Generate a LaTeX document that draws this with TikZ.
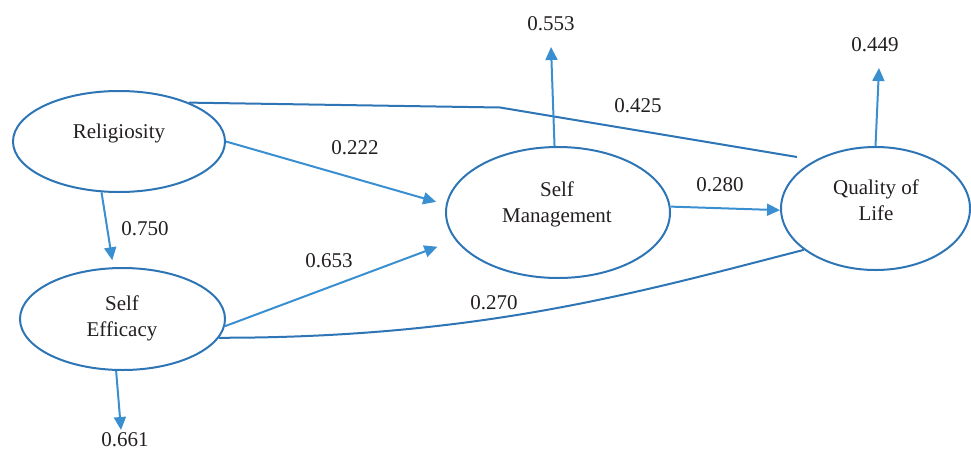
\documentclass[tikz,border=0pt]{standalone}
\usepackage{fontspec}
\setmainfont{Liberation Serif}
\usetikzlibrary{shapes.geometric,arrows.meta,calc}
\definecolor{ellblue}{HTML}{2E75B6}
\definecolor{arrblue}{HTML}{3A8FD0}
\definecolor{txtgray}{HTML}{231F20}
\begin{document}
\begin{tikzpicture}[x=1pt,y=-1pt,
  latent/.style={ellipse,draw=ellblue,line width=2pt,inner sep=0pt},
  lbl/.style={text=txtgray,font=\fontsize{21}{26}\selectfont,inner sep=0pt,align=center},
  arr/.style={draw=arrblue,line width=2pt,-{Triangle[length=13pt,width=12pt]}},
  plain/.style={draw=ellblue,line width=2pt}]
\useasboundingbox (0,0) rectangle (971,450);
% latent variables
\node[latent,minimum width=212pt,minimum height=101pt] (rel) at (119,141.5) {};
\node[latent,minimum width=205pt,minimum height=102pt] (se) at (122.5,319) {};
\node[latent,minimum width=224pt,minimum height=131pt] (sm) at (558,212.5) {};
\node[latent,minimum width=189pt,minimum height=123pt] (qol) at (875.5,208.5) {};
% node texts
\node[lbl] (relT) at (119,133) {Religiosity};
\node[lbl] (seT) at (122,318) {Self\\Efficacy};
\node[lbl] (smT) at (557,204) {Self\\Management};
\node[lbl] (qolT) at (876,200) {Quality of\\Life};
% free arrow ends
\coordinate (smOut) at (551,47);
\coordinate (qolOut) at (879,68);
\coordinate (seOut) at (121,430);
\coordinate (c425) at (797,157);
% connectors
\draw[plain] (rel.29.2) -- (500,107.5) -- (c425);
\draw[plain] (se.-11.95) .. controls (480,338) and (640,292) .. (qol.210.5);
\draw[arr,shorten >=10pt] (rel.0) -- (sm.176.6);
\draw[arr,shorten >=7pt] (rel.251.7) -- (se.100.6);
\draw[arr,shorten >=19pt] (se.-4.5) -- (sm.195.4);
\draw[arr] (sm.93.5) -- (smOut);
\draw[arr] (sm.3.35) -- (qol.181.5);
\draw[arr] (qol.90) -- (qolOut);
\draw[arr] (se.263.6) -- (seOut);
% coefficients
\node[lbl] (v553) at (551,24) {0.553};
\node[lbl] (v449) at (875,45) {0.449};
\node[lbl] (v425) at (638,106) {0.425};
\node[lbl] (v222) at (355,148) {0.222};
\node[lbl] (v280) at (720,185) {0.280};
\node[lbl] (v750) at (145,229) {0.750};
\node[lbl] (v653) at (329,261) {0.653};
\node[lbl] (v270) at (494,303) {0.270};
\node[lbl] (v661) at (125,439.5) {0.661};
\end{tikzpicture}
\end{document}
